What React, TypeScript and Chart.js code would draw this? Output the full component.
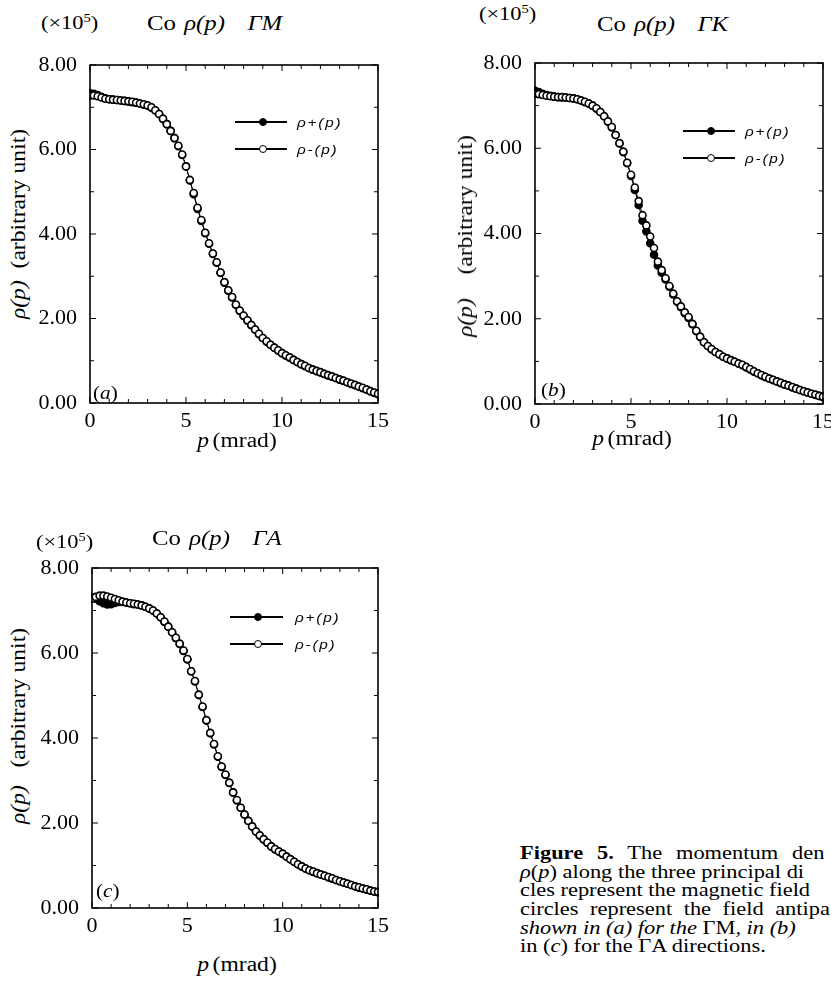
import React, { useEffect, useRef } from "react";
import { Chart, registerables } from "chart.js";

Chart.register(...registerables);

// ---------------- data ----------------
const P_MRAD = [0,0.2,0.4,0.6,0.8,1,1.2,1.4,1.6,1.8,2,2.2,2.4,2.6,2.8,3,3.2,3.4,3.6,3.8,4,4.2,4.4,4.6,4.8,5,5.2,5.4,5.6,5.8,6,6.2,6.4,6.6,6.8,7,7.2,7.4,7.6,7.8,8,8.2,8.4,8.6,8.8,9,9.2,9.4,9.6,9.8,10,10.2,10.4,10.6,10.8,11,11.2,11.4,11.6,11.8,12,12.2,12.4,12.6,12.8,13,13.2,13.4,13.6,13.8,14,14.2,14.4,14.6,14.8,15];

// (a) ΓM
const GM_PLUS = [7.33,7.32,7.29,7.25,7.21,7.19,7.18,7.17,7.16,7.15,7.14,7.12,7.11,7.09,7.06,7.04,6.99,6.93,6.84,6.72,6.60,6.44,6.27,6.08,5.87,5.60,5.27,4.94,4.59,4.31,4.02,3.77,3.53,3.32,3.08,2.85,2.66,2.50,2.32,2.18,2.06,1.95,1.84,1.74,1.63,1.54,1.45,1.38,1.31,1.24,1.18,1.12,1.07,1.02,0.97,0.92,0.87,0.83,0.79,0.75,0.72,0.69,0.65,0.62,0.59,0.55,0.52,0.49,0.45,0.42,0.39,0.35,0.32,0.28,0.24,0.21];
const GM_MINUS = [7.28,7.28,7.26,7.23,7.20,7.19,7.18,7.17,7.16,7.15,7.14,7.13,7.11,7.09,7.07,7.04,7.00,6.93,6.84,6.73,6.60,6.44,6.27,6.09,5.88,5.60,5.28,4.97,4.62,4.33,4.03,3.78,3.54,3.33,3.09,2.86,2.67,2.51,2.33,2.19,2.07,1.96,1.85,1.74,1.64,1.54,1.46,1.38,1.31,1.25,1.18,1.13,1.08,1.02,0.97,0.92,0.88,0.83,0.79,0.76,0.73,0.69,0.66,0.63,0.59,0.56,0.53,0.49,0.46,0.43,0.39,0.36,0.32,0.28,0.25,0.22];

// (b) ΓK
const GK_PLUS = [7.35,7.32,7.28,7.25,7.23,7.21,7.20,7.19,7.19,7.18,7.17,7.15,7.12,7.08,7.05,7.00,6.93,6.85,6.75,6.62,6.49,6.31,6.11,5.91,5.65,5.35,5.02,4.67,4.30,4.05,3.77,3.50,3.25,3.08,2.92,2.75,2.57,2.40,2.27,2.13,2.02,1.87,1.71,1.57,1.45,1.36,1.28,1.22,1.16,1.11,1.07,1.03,0.99,0.95,0.91,0.86,0.81,0.76,0.72,0.67,0.63,0.60,0.56,0.53,0.49,0.46,0.43,0.39,0.36,0.33,0.30,0.27,0.24,0.21,0.19,0.16];
const GK_MINUS = [7.28,7.27,7.25,7.23,7.22,7.21,7.20,7.20,7.19,7.18,7.17,7.15,7.12,7.09,7.05,7.00,6.94,6.85,6.75,6.63,6.50,6.31,6.12,5.92,5.66,5.38,5.08,4.76,4.43,4.19,3.93,3.66,3.34,3.14,2.95,2.77,2.59,2.41,2.29,2.15,2.04,1.88,1.72,1.58,1.45,1.36,1.29,1.22,1.17,1.11,1.07,1.03,0.99,0.95,0.92,0.87,0.82,0.77,0.72,0.68,0.64,0.60,0.57,0.53,0.50,0.46,0.43,0.40,0.36,0.33,0.30,0.27,0.24,0.22,0.19,0.17];

// (c) ΓA
const GA_PLUS = [7.30,7.28,7.22,7.17,7.14,7.15,7.18,7.20,7.20,7.19,7.17,7.15,7.14,7.12,7.09,7.05,7.00,6.93,6.84,6.73,6.62,6.49,6.35,6.21,6.05,5.85,5.57,5.33,5.01,4.73,4.41,4.11,3.85,3.56,3.32,3.13,2.94,2.72,2.53,2.36,2.20,2.05,1.92,1.80,1.70,1.61,1.53,1.45,1.38,1.33,1.27,1.21,1.15,1.09,1.03,0.98,0.93,0.89,0.85,0.82,0.79,0.76,0.72,0.69,0.66,0.63,0.60,0.57,0.54,0.51,0.48,0.46,0.43,0.41,0.39,0.37];
const GA_MINUS = [7.28,7.32,7.35,7.35,7.33,7.30,7.27,7.24,7.21,7.19,7.17,7.16,7.14,7.12,7.09,7.05,7.00,6.93,6.84,6.74,6.62,6.49,6.36,6.22,6.06,5.86,5.57,5.34,5.02,4.74,4.42,4.12,3.86,3.57,3.33,3.14,2.95,2.72,2.54,2.36,2.20,2.05,1.92,1.80,1.71,1.62,1.54,1.45,1.39,1.33,1.28,1.21,1.15,1.09,1.03,0.98,0.93,0.89,0.86,0.82,0.79,0.76,0.73,0.70,0.66,0.63,0.60,0.57,0.54,0.51,0.49,0.46,0.44,0.41,0.39,0.38];

const X_MINOR_TICKS = [0,1,2,3,4,5,6,7,8,9,10,11,12,13,14,15];
const Y_MINOR_TICKS = [0,1,2,3,4,5,6,7,8];
const SERIES_LABELS = ["ρ+(p)", "ρ-(p)"];

// ---------------- style ----------------
const SERIF = "'Liberation Serif', 'Times New Roman', Times, serif";
const SANS = "'Liberation Sans', Arial, sans-serif";
const SX = 1.18;

const PANELS = [
  {
    key: "a", dir: "ΓM", plus: GM_PLUS, minus: GM_MINUS,
    L: 90, T: 65, R: 378, B: 403,
    mult: [41, 22], title: [147, 23],
    ytitle: [18, 224], gap: "\u00a0\u00a0",
    xtitle: [237, 440], tag: [93, 393],
    leg: { x1: 235, x2: 287, cx: 263, tx: 297, y1: 122, y2: 149 },
  },
  {
    key: "b", dir: "ΓK", plus: GK_PLUS, minus: GK_MINUS,
    L: 535, T: 63, R: 823, B: 404,
    mult: [479, 13], title: [597, 24],
    ytitle: [465, 236], gap: "\u00a0\u00a0\u00a0\u00a0",
    xtitle: [632, 438], tag: [541, 390],
    leg: { x1: 683, x2: 735, cx: 711, tx: 745, y1: 131, y2: 158 },
  },
  {
    key: "c", dir: "ΓA", plus: GA_PLUS, minus: GA_MINUS,
    L: 92, T: 568, R: 378, B: 908,
    mult: [36, 541], title: [152, 538],
    ytitle: [18, 726], gap: "\u00a0\u00a0\u00a0",
    xtitle: [237, 964], tag: [96, 891],
    leg: { x1: 230, x2: 283, cx: 258, tx: 295, y1: 617, y2: 644 },
  },
];

const framePlugin = {
  id: "frameTicks",
  afterDatasetsDraw(chart: any) {
    const { ctx, chartArea } = chart;
    const { left, right, top, bottom } = chartArea;
    const xs = chart.scales.x;
    const ys = chart.scales.y;
    ctx.save();
    ctx.strokeStyle = "#000";
    ctx.lineWidth = 1;
    ctx.beginPath();
    for (const v of X_MINOR_TICKS) {
      const px = xs.getPixelForValue(v);
      const len = v % 5 === 0 ? 6 : 4;
      ctx.moveTo(px, bottom); ctx.lineTo(px, bottom - len);
      ctx.moveTo(px, top); ctx.lineTo(px, top + len);
    }
    for (const v of Y_MINOR_TICKS) {
      const py = ys.getPixelForValue(v);
      const len = v % 2 === 0 ? 6 : 4;
      ctx.moveTo(left, py); ctx.lineTo(left + len, py);
      ctx.moveTo(right, py); ctx.lineTo(right - len, py);
    }
    ctx.stroke();
    ctx.lineWidth = 1.6;
    ctx.strokeRect(left, top, right - left, bottom - top);
    ctx.restore();
  },
};

function Txt({ x, y, size = 20, children, style = {} }: any) {
  return (
    <div
      style={{
        position: "absolute", left: x, top: y, fontFamily: SERIF, fontSize: size,
        lineHeight: 1, whiteSpace: "nowrap", color: "#000",
        transform: `translateY(-50%) scaleX(${SX})`, transformOrigin: "left center",
        ...style,
      }}
    >
      {children}
    </div>
  );
}

function PanelChart({ panel }: any) {
  const ref = useRef<HTMLCanvasElement | null>(null);
  const W = panel.R - panel.L + 80;
  const H = panel.B - panel.T + 50;
  useEffect(() => {
    if (!ref.current) return;
    const mk = (vals: number[]) => P_MRAD.map((p, i) => ({ x: p, y: vals[i] }));
    const tickFont = { family: SERIF, size: 22 };
    const chart = new Chart(ref.current, {
      type: "line",
      data: {
        datasets: [
          {
            label: SERIES_LABELS[0], data: mk(panel.plus), borderColor: "#000", borderWidth: 1,
            pointRadius: 3.5, pointBorderWidth: 1.6, pointBackgroundColor: "#000",
            pointBorderColor: "#000", order: 2, clip: 1, tension: 0,
          },
          {
            label: SERIES_LABELS[1], data: mk(panel.minus), borderColor: "#000", borderWidth: 1,
            pointRadius: 3.5, pointBorderWidth: 1.6, pointBackgroundColor: "#fff",
            pointBorderColor: "#000", order: 1, clip: 1, tension: 0,
          },
        ],
      },
      options: {
        responsive: false, animation: false, events: [],
        layout: { padding: { top: 20, right: 20, left: 0, bottom: 0 } },
        plugins: { legend: { display: false }, tooltip: { enabled: false }, title: { display: false } },
        scales: {
          x: {
            type: "linear", min: 0, max: 15,
            grid: { display: false }, border: { display: false },
            ticks: {
              stepSize: 5, autoSkip: false, maxRotation: 0, padding: -3,
              font: tickFont, color: "#000", callback: (v: any) => String(v),
            },
            afterFit: (s: any) => { s.height = 30; },
          },
          y: {
            type: "linear", min: 0, max: 8,
            grid: { display: false }, border: { display: false },
            ticks: {
              stepSize: 2, autoSkip: false, padding: 5,
              font: tickFont, color: "#000", callback: (v: any) => Number(v).toFixed(2),
            },
            afterFit: (s: any) => { s.width = 60; },
          },
        },
      } as any,
      plugins: [framePlugin],
    });
    return () => chart.destroy();
  }, [panel]);
  return (
    <canvas
      ref={ref}
      width={W}
      height={H}
      style={{ position: "absolute", left: panel.L - 60, top: panel.T - 20, width: W, height: H }}
    />
  );
}

function LegendRow({ x1, x2, cx, y, tx, filled, label }: any) {
  return (
    <>
      <div style={{ position: "absolute", left: x1, top: y - 0.75, width: x2 - x1, height: 1.5, background: "#000" }} />
      <div
        style={{
          position: "absolute", left: cx - 4, top: y - 4, width: 8, height: 8, borderRadius: "50%",
          border: "1.5px solid #000", boxSizing: "border-box", background: filled ? "#000" : "#fff",
        }}
      />
      <Txt x={tx} y={y} size={13} style={{ fontFamily: SANS, fontStyle: "italic", letterSpacing: 1.5 }}>
        {label}
      </Txt>
    </>
  );
}

function Panel({ panel }: any) {
  const lg = panel.leg;
  return (
    <>
      <PanelChart panel={panel} />
      <Txt x={panel.mult[0]} y={panel.mult[1]} size={19}>
        (×10<sup style={{ fontSize: "0.65em", verticalAlign: "0.55em", lineHeight: 0 }}>5</sup>)
      </Txt>
      <Txt x={panel.title[0]} y={panel.title[1]} size={21}>
        Co<span style={{ marginLeft: 7, fontStyle: "italic" }}>ρ(p)</span>
        <span style={{ marginLeft: 19, fontStyle: "italic" }}>{panel.dir}</span>
      </Txt>
      <div
        style={{
          position: "absolute", left: panel.ytitle[0], top: panel.ytitle[1], fontFamily: SERIF,
          fontSize: 20, lineHeight: 1, whiteSpace: "nowrap", color: "#000",
          transform: `translate(-50%, -50%) rotate(-90deg) scaleX(${SX})`,
        }}
      >
        <i>ρ(p)</i>{panel.gap}(arbitrary unit)
      </div>
      <div
        style={{
          position: "absolute", left: panel.xtitle[0], top: panel.xtitle[1], fontFamily: SERIF,
          fontSize: 20, lineHeight: 1, whiteSpace: "nowrap", color: "#000",
          transform: `translate(-50%, -50%) scaleX(${SX})`,
        }}
      >
        <i>p</i>
        <span style={{ marginLeft: 3 }}>(mrad)</span>
      </div>
      <Txt x={panel.tag[0]} y={panel.tag[1]} size={18}>
        (<i>{panel.key}</i>)
      </Txt>
      <LegendRow x1={lg.x1} x2={lg.x2} cx={lg.cx} y={lg.y1} tx={lg.tx} filled label={SERIES_LABELS[0]} />
      <LegendRow x1={lg.x1} x2={lg.x2} cx={lg.cx} y={lg.y2} tx={lg.tx} filled={false} label={SERIES_LABELS[1]} />
    </>
  );
}

function Caption() {
  const size = 19;
  return (
    <>
      <Txt x={520} y={852} size={size} style={{ wordSpacing: 7 }}>
        <b>Figure 5.</b> The momentum den
      </Txt>
      <Txt x={520} y={871} size={size}>
        <i>ρ</i>(<i>p</i>) along the three principal di
      </Txt>
      <Txt x={520} y={889} size={size}>
        cles represent the magnetic field
      </Txt>
      <Txt x={520} y={908} size={size} style={{ wordSpacing: 5 }}>
        circles represent the field antipa
      </Txt>
      <Txt x={520} y={927} size={size} style={{ fontStyle: "italic" }}>
        shown in (a) for the <span style={{ fontStyle: "normal" }}>ΓM</span>, in (b)
      </Txt>
      <Txt x={520} y={945} size={size}>
        in (<i>c</i>) for the ΓA directions.
      </Txt>
    </>
  );
}

export default function App() {
  return (
    <div
      style={{
        position: "absolute", left: 0, top: 0, width: 831, height: 983, overflow: "hidden",
        background: "#fff",
      }}
    >
      {PANELS.map((p) => (
        <Panel key={p.key} panel={p} />
      ))}
      <Caption />
    </div>
  );
}
